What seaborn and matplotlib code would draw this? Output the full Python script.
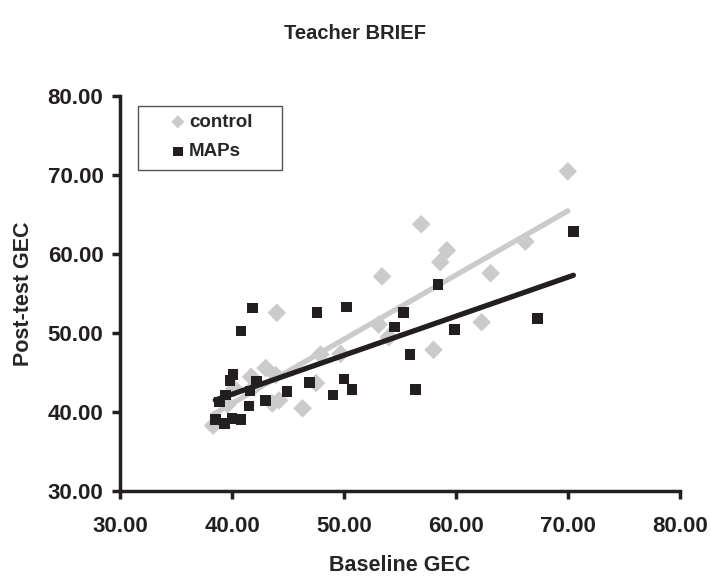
import pandas as pd
import matplotlib.pyplot as plt
import seaborn as sns
from matplotlib.patches import Rectangle
from matplotlib.ticker import FormatStrFormatter

# control group (grey diamonds)
control_base = [38.3, 40.2, 41.7, 43.0, 43.9, 43.6, 44.2, 46.3, 47.5, 47.9,
                49.7, 44.0, 53.1, 54.0, 53.4, 56.9, 58.6, 59.2, 58.0, 62.3,
                63.1, 66.2, 70.0, 42.1, 39.6]
control_post = [38.3, 43.0, 44.5, 45.6, 44.7, 41.1, 41.5, 40.5, 43.7, 47.3,
                47.4, 52.6, 51.1, 49.5, 57.2, 63.8, 59.0, 60.5, 47.9, 51.4,
                57.6, 61.6, 70.5, 43.4, 41.0]

# MAPs group (black squares)
maps_base = [38.5, 39.3, 40.0, 40.8, 38.9, 39.4, 39.8, 40.1, 42.2, 41.6,
             41.5, 43.0, 44.9, 46.9, 49.0, 50.0, 50.7, 40.8, 41.8, 47.6,
             50.2, 55.3, 54.5, 59.9, 58.4, 55.9, 56.4, 67.3, 70.5]
maps_post = [39.1, 38.6, 39.2, 39.1, 41.3, 42.2, 44.0, 44.8, 43.9, 42.7,
             40.8, 41.5, 42.6, 43.8, 42.2, 44.2, 42.9, 50.3, 53.2, 52.6,
             53.3, 52.6, 50.8, 50.5, 56.2, 47.3, 42.9, 51.9, 62.9]

ticks = [30, 40, 50, 60, 70, 80]

df = pd.DataFrame({
    'base': control_base + maps_base,
    'post': control_post + maps_post,
    'group': ['control'] * len(control_base) + ['MAPs'] * len(maps_base),
})

grey = '#cbcbcb'
black = '#231f20'

sns.set_style('white')
plt.rcParams['font.family'] = ['Liberation Sans', 'DejaVu Sans']
plt.rcParams['font.weight'] = 'bold'

fig = plt.figure(figsize=(7.11, 5.80), dpi=100, facecolor='white')
ax = fig.add_axes([0.169, 0.153, 0.787, 0.681])

ctrl = df[df.group == 'control']
maps = df[df.group == 'MAPs']

sns.scatterplot(data=ctrl, x='base', y='post', marker='D', s=90, color=grey,
                edgecolor='none', ax=ax, zorder=2, label='control', clip_on=False)
sns.regplot(data=ctrl, x='base', y='post', scatter=False, ci=None, ax=ax,
            line_kws={'color': grey, 'lw': 3.8, 'zorder': 3,
                      'solid_capstyle': 'round'})
sns.scatterplot(data=maps, x='base', y='post', marker='s', s=58, color=black,
                edgecolor='none', ax=ax, zorder=4, label='MAPs', clip_on=False)
sns.regplot(data=maps, x='base', y='post', scatter=False, ci=None, ax=ax,
            line_kws={'color': black, 'lw': 3.8, 'zorder': 5,
                      'solid_capstyle': 'round'})

ax.set_xlim(30, 80)
ax.set_ylim(30, 80)
ax.set_xticks(ticks)
ax.set_yticks(ticks)
ax.xaxis.set_major_formatter(FormatStrFormatter('%.2f'))
ax.yaxis.set_major_formatter(FormatStrFormatter('%.2f'))

for side in ['top', 'right']:
    ax.spines[side].set_visible(False)
for side in ['left', 'bottom']:
    ax.spines[side].set_linewidth(2.5)
    ax.spines[side].set_color(black)

ax.tick_params(axis='both', direction='out', length=6, width=2.5,
               colors=black, labelsize=16)
ax.tick_params(axis='x', pad=12)
ax.tick_params(axis='y', pad=6)
ax.tick_params(left=True, bottom=True)
for label in ax.get_xticklabels() + ax.get_yticklabels():
    label.set_fontweight('bold')

ax.set_xlabel('Baseline GEC', fontsize=15.5, fontweight='bold', labelpad=13)
ax.set_ylabel('Post-test GEC', fontsize=15.5, fontweight='bold', labelpad=10)
fig.suptitle('Teacher BRIEF', fontsize=14.5, fontweight='bold', y=0.958)

# legend box
ax.add_patch(Rectangle((0.032, 0.813), 0.257, 0.162, transform=ax.transAxes,
                       facecolor='white', edgecolor='#555555', lw=1.0,
                       zorder=6, clip_on=False))
leg = ax.legend(loc='upper left', bbox_to_anchor=(0.073, 0.975), frameon=False,
                prop={'size': 13.5, 'weight': 'bold'}, handletextpad=0.1,
                handlelength=1.0, borderpad=0.4, labelspacing=0.65,
                borderaxespad=0)
leg.set_zorder(7)
for h in leg.legend_handles:
    h.set_sizes([45])

plt.savefig('out.png', dpi=100, facecolor='white')
